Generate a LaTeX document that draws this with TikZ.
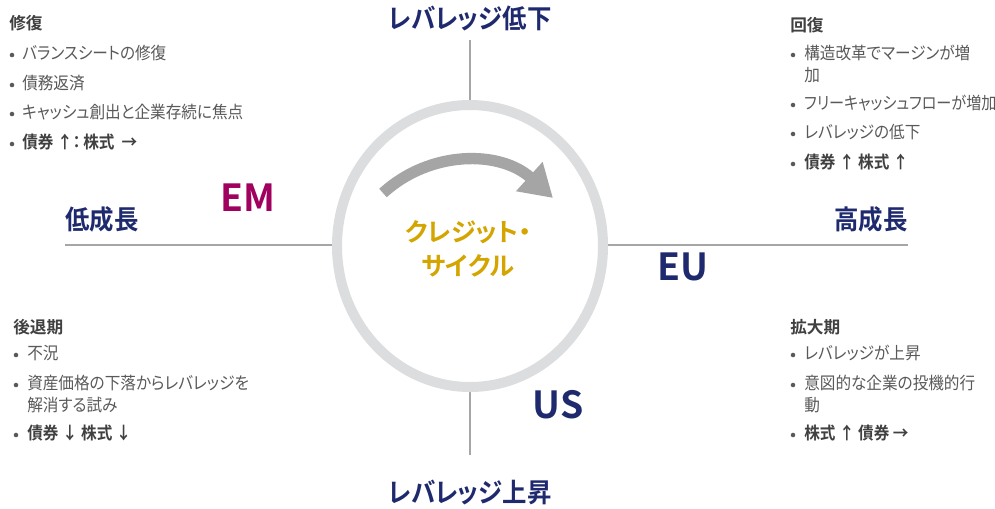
\documentclass[tikz,border=0pt]{standalone}
\usepackage{fontspec}
\setmainfont{Noto Sans CJK JP}[BoldFont={Noto Sans CJK JP Bold}, RawFeature=+palt]
\newfontfamily\narrowfont{Noto Sans CJK JP}[BoldFont={Noto Sans CJK JP Bold}, RawFeature=+palt, FakeStretch=0.915]
\newfontfamily\narrowerfont{Noto Sans CJK JP}[BoldFont={Noto Sans CJK JP Bold}, RawFeature=+palt, FakeStretch=0.885]
\usetikzlibrary{arrows.meta}
\definecolor{navy}{HTML}{1F2A6E}
\definecolor{magentaem}{HTML}{A0005E}
\definecolor{goldtxt}{HTML}{D4A500}
\definecolor{arrowgray}{HTML}{A5A5A5}
\definecolor{ringgray}{HTML}{DCDDDF}
\definecolor{axisgray}{HTML}{A6A6A6}
\definecolor{bodygray}{HTML}{595959}
\definecolor{headgray}{HTML}{404040}
\tikzset{
  axis/.style={draw=axisgray, line width=2.2pt},
  axislabel/.style={font=\narrowfont\fontsize{20}{22}\selectfont\bfseries, text=navy, inner sep=0pt},
  region/.style={font=\fontsize{28}{32}\selectfont\bfseries, inner sep=0pt},
  head/.style={font=\fontsize{12.5}{14}\selectfont\bfseries, text=headgray, anchor=west, inner sep=0pt},
  item/.style={font=\narrowfont\fontsize{12.8}{16.5}\selectfont, text=bodygray, anchor=north west, inner sep=0pt, align=left},
  tightitem/.style={item, font=\narrowerfont\fontsize{12.8}{16.5}\selectfont},
  bolditem/.style={item, font=\narrowfont\fontsize{12.8}{16.5}\selectfont\bfseries, text=headgray},
  dot/.style={circle, fill=bodygray, inner sep=0pt, minimum size=3.4pt},
}
\begin{document}
\begin{tikzpicture}[x=0.75pt, y=-0.75pt]
\useasboundingbox (0,0) rectangle (995,508);
% axes
\coordinate (vt) at (470,40);
\coordinate (vb) at (470,455);
\coordinate (hl) at (65,245);
\coordinate (hr) at (908,245);
\path[axis] (vt) -- (470,110);
\path[axis] (470,380) -- (vb);
\path[axis] (hl) -- (345,245);
\path[axis] (595,245) -- (hr);
\fill[white] (470,246) ellipse [x radius=133, y radius=141];
\draw[ringgray, line width=7.5pt] (470,246) ellipse [x radius=133, y radius=141];
% arrow
\coordinate (arS) at (383,193);
\coordinate (arE) at (553,198);
\draw[arrowgray, line width=8.5pt, -{Triangle[length=24pt, width=28pt]}]
  (arS) .. controls (430,150) and (500,150) .. (arE);
% center text
\node[font=\fontsize{19}{25}\selectfont\bfseries, text=goldtxt, align=center, inner sep=0pt] (ctr) at (468,249) {クレジット・\\サイクル};
% axis labels
\node[axislabel] (lvdown) at (470,18) {レバレッジ低下};
\node[axislabel] (lvup) at (470,492) {レバレッジ上昇};
\node[axislabel, anchor=west] (lowg) at (65,219) {低成長};
\node[axislabel, anchor=east] (highg) at (908,219) {高成長};
% regions
\node[region, text=magentaem] (em) at (248,198) {EM};
\node[region, text=navy] (eu) at (683,267) {EU};
\node[region, text=navy] (us) at (558,405) {US};
% top-left
\node[head] (tlh) at (9,23) {修復};
\node[dot] (tld1) at (12,55) {}; \node[item] (tli1) at (22,45) {バランスシートの修復};
\node[dot] (tld2) at (12,85) {}; \node[item] (tli2) at (22,75) {債務返済};
\node[dot] (tld3) at (12,114) {}; \node[item] (tli3) at (22,104) {キャッシュ創出と企業存続に焦点};
\node[dot] (tld4) at (12,144) {}; \node[bolditem] (tli4) at (22,134) {債券 ↑：\,株式 \ →};
% top-right
\node[head] (trh) at (790,25) {回復};
\node[dot] (trd1) at (793,55) {}; \node[item] (tri1) at (804,45) {構造改革でマージンが増\\加};
\node[dot] (trd2) at (793,105) {}; \node[tightitem] (tri2) at (804,95) {フリーキャッシュフローが増加};
\node[dot] (trd3) at (793,134) {}; \node[item] (tri3) at (804,124) {レバレッジの低下};
\node[dot] (trd4) at (793,164) {}; \node[bolditem] (tri4) at (804,154) {債券 ↑ 株式 ↑};
% bottom-left
\node[head] (blh) at (13,327) {後退期};
\node[dot] (bld1) at (16,355) {}; \node[item] (bli1) at (27,345) {不況};
\node[dot] (bld2) at (16,385) {}; \node[item] (bli2) at (27,375) {資産価格の下落からレバレッジを\\解消する試み};
\node[dot] (bld3) at (16,435) {}; \node[bolditem] (bli3) at (27,425) {債券 ↓ 株式 ↓};
% bottom-right
\node[head] (brh) at (790,327) {拡大期};
\node[dot] (brd1) at (793,355) {}; \node[item] (bri1) at (804,345) {レバレッジが上昇};
\node[dot] (brd2) at (793,385) {}; \node[item] (bri2) at (804,375) {意図的な企業の投機的行\\動};
\node[dot] (brd3) at (793,435) {}; \node[bolditem] (bri3) at (804,425) {株式 ↑ 債券 →};
\end{tikzpicture}
\end{document}
